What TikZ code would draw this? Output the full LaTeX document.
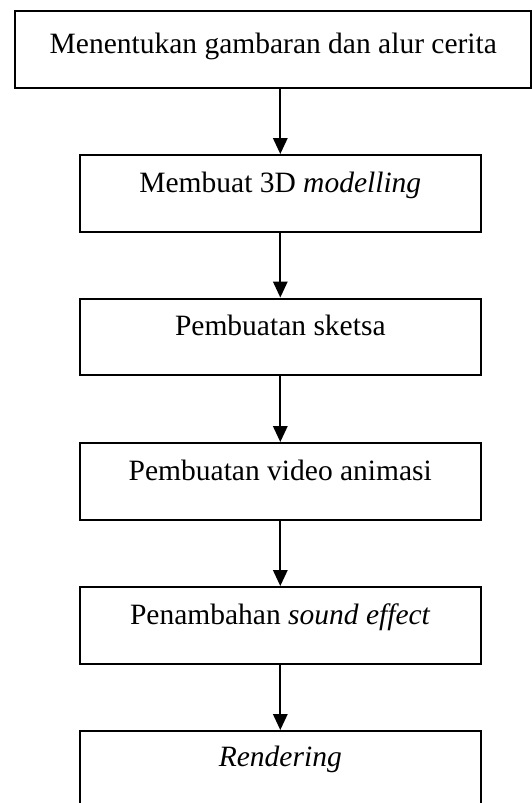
\documentclass[tikz,border=0pt]{standalone}
\usepackage{fontspec}
\setmainfont{Liberation Serif}
\usetikzlibrary{arrows.meta}
\begin{document}
\begin{tikzpicture}[x=1pt,y=-1pt,
  box/.style={draw, line width=2pt, inner sep=0pt, minimum width=400.7pt,
    text height=37pt, text depth=39.5pt, anchor=north,
    font=\fontsize{29.5}{32}\selectfont},
  flow/.style={line width=1.7pt, -{Triangle[length=16pt,width=14.5pt]}}]
\useasboundingbox (0,0) rectangle (532,803);
\node[box, minimum width=516pt, text height=42pt, text depth=35pt] (b1) at (273.3,10) {Menentukan gambaran dan alur cerita};
\node[box] (b2) at (280.3,154) {Membuat 3D \textit{modelling}};
\node[box] (b3) at (280.3,297.5) {Pembuatan sketsa};
\node[box] (b4) at (280.3,442) {Pembuatan video animasi};
\node[box] (b5) at (280.3,586) {Penambahan \textit{sound effect}};
\node[box, text height=35pt, text depth=42pt] (b6) at (280.3,730) {\textit{Rendering}};
\draw[flow] (b1.south -| b2.north) -- (b2.north);
\draw[flow] (b2.south) -- (b3.north);
\draw[flow] (b3.south) -- (b4.north);
\draw[flow] (b4.south) -- (b5.north);
\draw[flow] (b5.south) -- (b6.north);
\end{tikzpicture}
\end{document}
